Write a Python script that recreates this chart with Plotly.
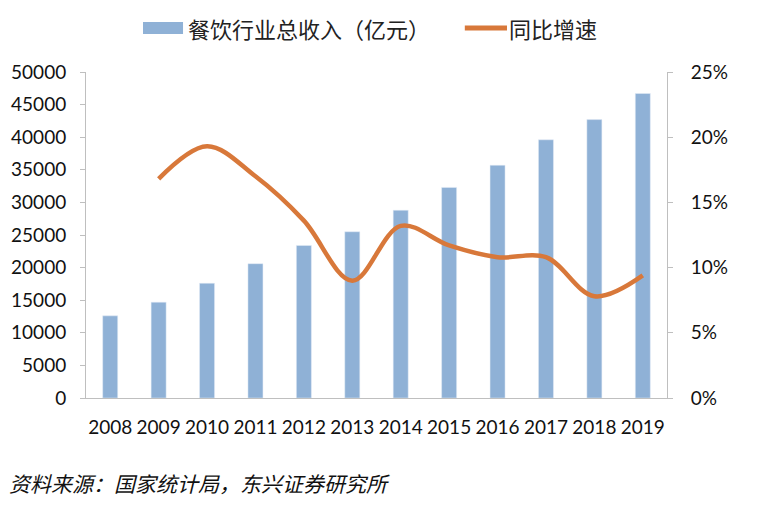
import plotly.graph_objects as go

years = ["2008", "2009", "2010", "2011", "2012", "2013",
         "2014", "2015", "2016", "2017", "2018", "2019"]
revenue = [12600, 14700, 17600, 20600, 23400, 25500,
           28800, 32300, 35700, 39600, 42700, 46700]
growth = [None, 0.168, 0.193, 0.170, 0.136, 0.090,
          0.132, 0.117, 0.108, 0.108, 0.078, 0.094]

bar_name = "餐饮行业总收入（亿元）"
line_name = "同比增速"
source = "资料来源：国家统计局，东兴证券研究所"

bar_color = "#8FB1D6"
line_color = "#D8783A"
axis_color = "#BFBFBF"
num_font = "Lato, 'Liberation Sans', sans-serif"
cjk_font = "'Noto Sans CJK SC', sans-serif"

fig = go.Figure()
fig.add_trace(go.Bar(x=years, y=revenue, name=bar_name, marker_color=bar_color,
                     showlegend=False))
fig.add_trace(go.Scatter(x=years, y=growth, name=line_name, yaxis="y2", mode="lines",
                         line=dict(color=line_color, width=4.5, shape="spline", smoothing=1.0),
                         showlegend=False))

# hand-drawn legend keys (Excel style: wide rect + thick line)
fig.add_shape(type="rect", xref="paper", yref="paper", x0=0.0981, x1=0.167,
              y0=1.1166, y1=1.1534, fillcolor=bar_color, line_width=0)
fig.add_shape(type="line", xref="paper", yref="paper", x0=0.652, x1=0.7246,
              y0=1.135, y1=1.135, line=dict(color=line_color, width=5))
fig.add_annotation(xref="paper", yref="paper", x=0.172, y=1.135, text=bar_name,
                   showarrow=False, xanchor="left", yanchor="middle",
                   font=dict(family=cjk_font, size=22, color="#222"))
fig.add_annotation(xref="paper", yref="paper", x=0.725, y=1.135, text=line_name,
                   showarrow=False, xanchor="left", yanchor="middle",
                   font=dict(family=cjk_font, size=22, color="#222"))
fig.add_annotation(xref="paper", yref="paper", x=-0.136, y=-0.2607,
                   text="<i>" + source + "</i>", showarrow=False,
                   xanchor="left", yanchor="middle",
                   font=dict(family=cjk_font, size=21, color="#111"))

# the page body adds an 8px offset on both sides, margins compensate
fig.update_layout(
    width=764, height=507,
    margin=dict(l=78, r=105, t=64, b=117),
    paper_bgcolor="white", plot_bgcolor="white",
    bargap=0.69,
    showlegend=False,
    xaxis=dict(type="category", showline=True, linecolor=axis_color, linewidth=1,
               ticks="", showgrid=False, ticklabelstandoff=12, automargin=False,
               tickfont=dict(family=num_font, size=19, color="#111")),
    yaxis=dict(range=[0, 50000], dtick=5000, tickformat="d", showline=True,
               linecolor=axis_color, linewidth=1, ticks="outside", ticklen=5,
               tickcolor=axis_color, showgrid=False, zeroline=False,
               ticklabelstandoff=10, automargin=False,
               tickfont=dict(family=num_font, size=19, color="#111")),
    yaxis2=dict(range=[0, 0.25], dtick=0.05, tickformat=".0%", overlaying="y",
                side="right", showline=True, linecolor=axis_color, linewidth=1,
                ticks="outside", ticklen=5, tickcolor=axis_color, showgrid=False,
                zeroline=False, ticklabelstandoff=14, automargin=False,
                tickfont=dict(family=num_font, size=19, color="#111")),
)

fig.write_html("out.html")
